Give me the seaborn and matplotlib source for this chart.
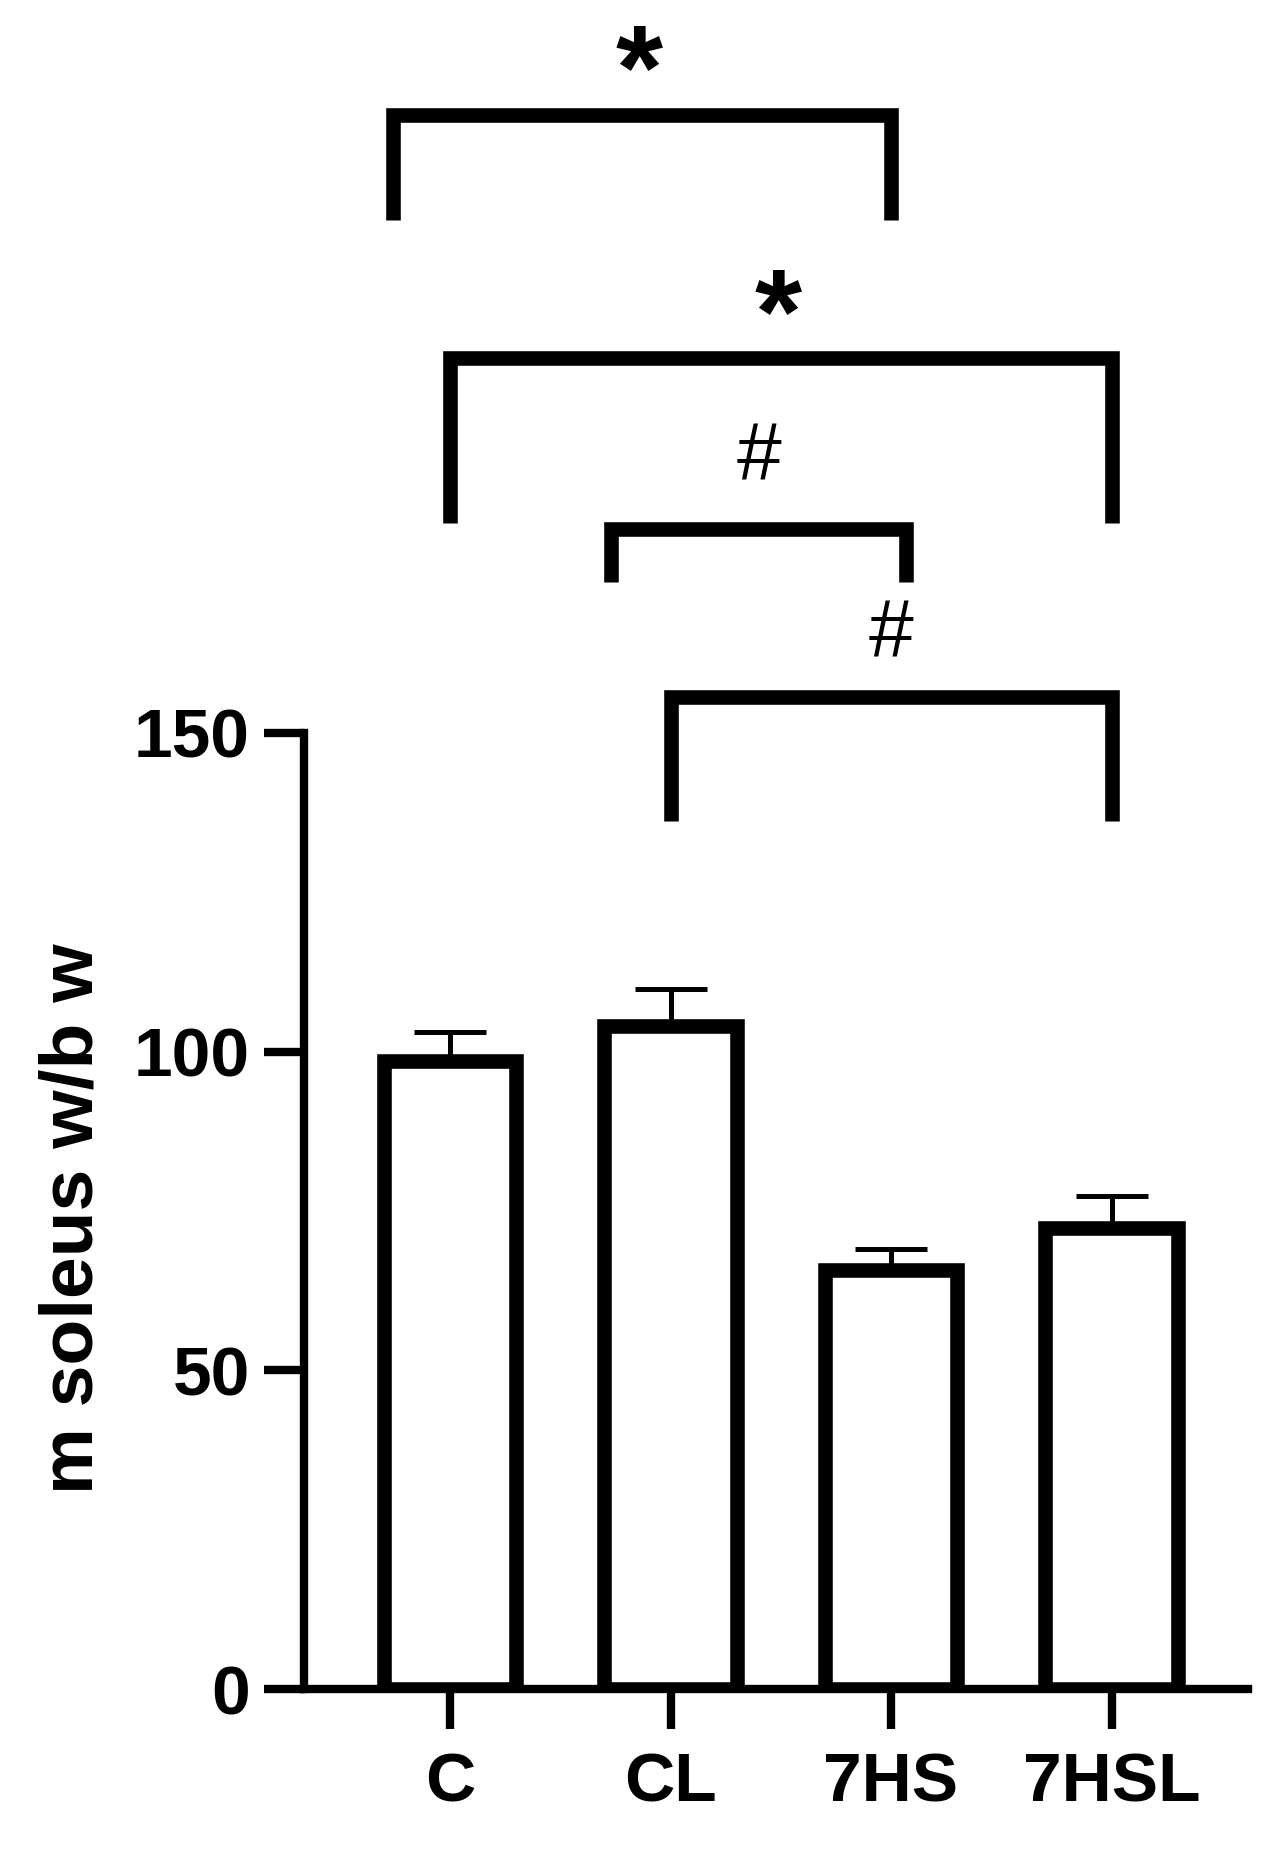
import numpy as np
import pandas as pd
import seaborn as sns
import matplotlib.pyplot as plt

# --- data ---
groups = ["C", "CL", "7HS", "7HSL"]
means = [98.5, 104.1, 65.8, 72.3]
sems = [4.6, 5.8, 3.2, 5.1]

# significance brackets (x in category units, y in data units)
br_left = [-0.26, 0.0, 0.73, 1.0]
br_right = [2.0, 3.0, 2.07, 3.0]
br_low = [230.5, 183.0, 173.7, 136.2]
br_high = [246.9, 208.8, 182.0, 155.7]
br_mark = ["*", "*", "#", "#"]
mark_x = [0.86, 1.49, 1.40, 2.0]
mark_y = [253.0, 214.7, 193.0, 165.3]

sns.set_style("ticks")
plt.rcParams['font.family'] = ['Liberation Sans', 'DejaVu Sans']
plt.rcParams.update({'axes.edgecolor': 'black', 'text.color': 'black',
                     'xtick.color': 'black', 'ytick.color': 'black',
                     'axes.labelcolor': 'black'})

fig = plt.figure(figsize=(12.79, 18.51), dpi=100)
ax = fig.add_axes([0.2377, 0.0875, 0.7381, 0.5165])

df = pd.DataFrame({"group": groups, "value": means})
sns.barplot(data=df, x="group", y="value", color="white", saturation=1,
            edgecolor="black", linewidth=10.5, width=0.6, errorbar=None,
            ax=ax, zorder=3)

# upper error bars only
ax.errorbar(np.arange(len(groups)), means, yerr=[np.zeros(len(sems)), sems],
            fmt='none', ecolor='black', elinewidth=3.6, capsize=26,
            capthick=3.6, zorder=2)

ax.set_xlim(-0.662, 3.619)
ax.set_ylim(0, 150)
ax.set_yticks([0, 50, 100, 150])
ax.set_xlabel("")
ax.set_ylabel("m soleus w/b w", fontsize=54, fontweight='bold')
ax.yaxis.set_label_coords(-0.2447, 0.4916)
ax.yaxis.label.set_va('center')

for side in ['top', 'right']:
    ax.spines[side].set_visible(False)
for side in ['left', 'bottom']:
    ax.spines[side].set_linewidth(6)
    ax.spines[side].set_color('black')
    ax.spines[side].set_capstyle('projecting')

ax.tick_params(axis='both', length=29, width=6, color='black')
ax.tick_params(axis='y', pad=10, labelsize=50)
ax.tick_params(axis='x', pad=16, labelsize=50)
for lab in ax.get_xticklabels() + ax.get_yticklabels():
    lab.set_fontweight('bold')

# --- comparison brackets ---
for l, r, lo, hi, m, mx, my in zip(br_left, br_right, br_low, br_high,
                                  br_mark, mark_x, mark_y):
    ax.plot([l, l, r, r], [lo, hi, hi, lo], color='black', lw=10.5,
            solid_joinstyle='miter', solid_capstyle='butt', clip_on=False)
    if m == "*":
        ax.text(mx, my, m, ha='center', va='center', fontsize=87,
                fontweight='bold', clip_on=False)
    else:
        ax.text(mx, my, m, ha='center', va='center', fontsize=58,
                clip_on=False)

fig.savefig("out.png", dpi=100)
